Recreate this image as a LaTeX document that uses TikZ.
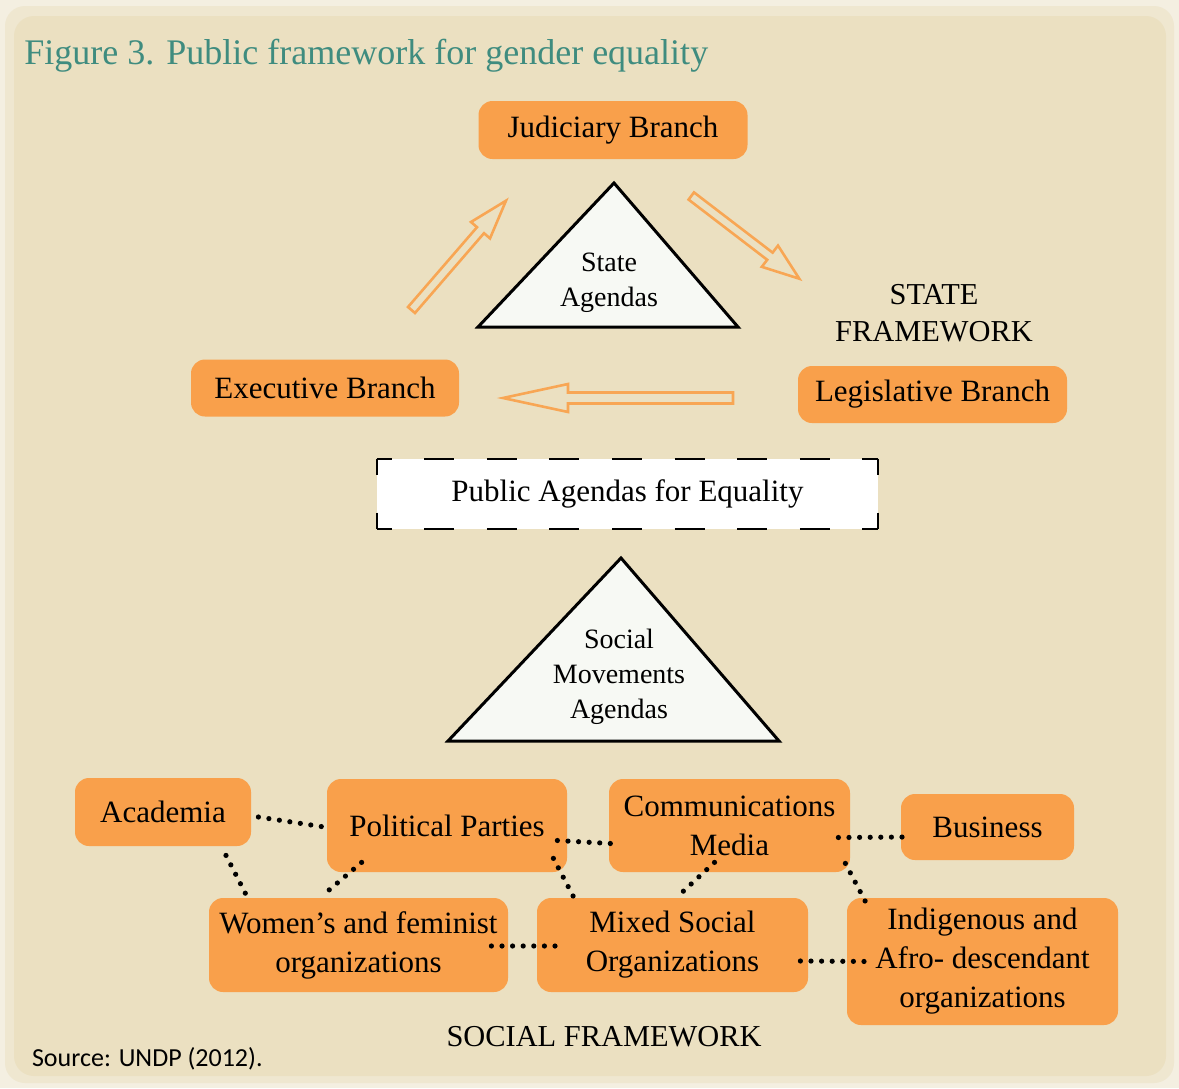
\documentclass[tikz,border=0pt]{standalone}
\usepackage{fontspec}
\setmainfont{Liberation Serif}
\newfontfamily\sourcefont{Carlito}
\usetikzlibrary{calc}
\definecolor{paper}{HTML}{EBE0C1}
\definecolor{paperedge}{HTML}{F4EFE1}
\definecolor{papermid}{HTML}{EFE7D0}
\definecolor{branchorange}{HTML}{F9A04B}
\definecolor{arroworange}{HTML}{F8A654}
\definecolor{titleteal}{HTML}{3F8C7F}
\definecolor{trifill}{HTML}{F7F9F4}

\begin{document}
\begin{tikzpicture}
  [x=0.5pt, y=-0.5pt,
   box/.style={fill=branchorange, rounded corners=7pt, align=center, inner sep=0pt,
               font=\fontsize{15.5}{19.5}\selectfont},
   agendatri/.style={draw=black, line width=1.5pt, fill=trifill, line join=miter},
   trilabel/.style={align=center, font=\fontsize{14}{17.5}\selectfont},
   hollow/.style={draw=arroworange, line width=1.3pt, line join=miter},
   dots/.style={line width=2.6pt, line cap=round, dash pattern=on 0pt off 5.3pt},
   dashh/.style={line width=1pt, dash pattern=on 15pt off 16.3pt, dash phase=7.5pt},
   dashv/.style={line width=1pt, dash pattern=on 8pt off 19pt},
   frame/.style={align=center, font=\fontsize{15.2}{18.5}\selectfont}]

  % paper
  \fill[paperedge] (0,0) rectangle (1179,1088);
  \fill[papermid, rounded corners=10pt] (5,6) rectangle (1174,1083);
  \fill[paper, rounded corners=10pt] (14,16) rectangle (1166,1076);
  \useasboundingbox (0,0) rectangle (1179,1088);

  \node[anchor=west, inner sep=0pt, text=titleteal, font=\fontsize{18}{20}\selectfont] (title) at (24,56)
    {Figure 3. Public framework for gender equality};

  % state framework
  \node[box, minimum width=134.5pt, minimum height=29pt] (judic) at (613,130) {Judiciary Branch};
  \node[box, minimum width=134pt, minimum height=28.5pt] (exec) at (325,388) {Executive Branch};
  \node[box, minimum width=134.5pt, minimum height=28.5pt] (legis) at (932.5,394.5) {Legislative Branch};

  \draw[agendatri] (614,183) -- (738,327) -- (478,327) -- cycle;
  \node[trilabel] (stagenda) at (609,283) {State\\Agendas};

  \draw[hollow] (408,307) -- (477,227.2) -- (471,222) -- (506,200.7) -- (490,238.4) -- (484,233.2) -- (415,313) -- cycle;
  \draw[hollow] (694,192.4) -- (772.6,252.6) -- (778,245.6) -- (799.3,278.7) -- (761.8,266.8) -- (767.2,259.8) -- (688.6,199.6) -- cycle;
  \draw[hollow] (733,392.5) -- (568,392.5) -- (568,384) -- (503,398) -- (568,412) -- (568,403.5) -- (733,403.5) -- cycle;

  \node[frame] (stframe) at (934,313) {STATE\\FRAMEWORK};

  \node[fill=white, minimum width=250.5pt, minimum height=35pt, inner sep=0pt,
        font=\fontsize{15.5}{19.5}\selectfont] (pubag) at (627.5,494) {Public Agendas for Equality};
  \draw[dashh] (pubag.north west) -- (pubag.north east);
  \draw[dashh] (pubag.south west) -- (pubag.south east);
  \draw[dashv] (pubag.north west) -- (pubag.south west);
  \draw[dashv] (pubag.north east) -- (pubag.south east);

  % social framework
  \draw[agendatri] (621,558) -- (779,741) -- (448,741) -- cycle;
  \node[trilabel] (socagenda) at (619,677) {Social\\Movements\\Agendas};

  \node[box, minimum width=88pt, minimum height=34pt] (acad) at (163,812) {Academia};
  \node[box, minimum width=120pt, minimum height=46.5pt] (pol) at (447,825.5) {Political Parties};
  \node[box, minimum width=120.5pt, minimum height=46.5pt] (comm) at (729.5,825.5) {Communications\\Media};
  \node[box, minimum width=86.5pt, minimum height=33pt] (bus) at (987.5,827) {Business};
  \node[box, minimum width=149.5pt, minimum height=47pt] (women) at (358.5,945) {Women's and feminist\\organizations};
  \node[box, minimum width=135.5pt, minimum height=47pt] (mixed) at (672.5,945) {Mixed Social\\Organizations};
  \node[box, minimum width=135.5pt, minimum height=63.5pt] (indig) at (982.5,961.5) {Indigenous and\\Afro- descendant\\organizations};

  \draw[dots] ($(acad.east)+(7,5)$) -- ($(pol.west)+(1,2)$);
  \draw[dots] ($(acad.south)+(63,9)$) -- ($(women.north west)+(40,2)$);
  \draw[dots] ($(pol.south west)+(35,-10)$) -- ($(women.north)+(-36,-2)$);
  \draw[dots] ($(pol.east)+(-10,15)$) -- ($(comm.west)+(2,18)$);
  \draw[dots] ($(pol.south east)+(-14,-14)$) -- ($(mixed.north west)+(41,7)$);
  \draw[dots] ($(comm.south)+(-15,-10)$) -- ($(mixed.north)+(5,-1)$);
  \draw[dots] ($(comm.east)+(-12,12)$) -- ($(bus.west)+(6,10)$);
  \draw[dots] ($(comm.south east)+(-5,-9)$) -- ($(indig.north west)+(22,10)$);
  \draw[dots] ($(women.east)+(-17,1)$) -- ($(mixed.west)+(25,1)$);
  \draw[dots] ($(mixed.east)+(-8,16)$) -- ($(indig.west)+(23,0)$);

  \node[frame] (soframe) at (604,1037) {SOCIAL FRAMEWORK};

  \node[anchor=west, font=\sourcefont\fontsize{13}{15}\selectfont] (source) at (25,1059) {Source: UNDP (2012).};
\end{tikzpicture}
\end{document}
